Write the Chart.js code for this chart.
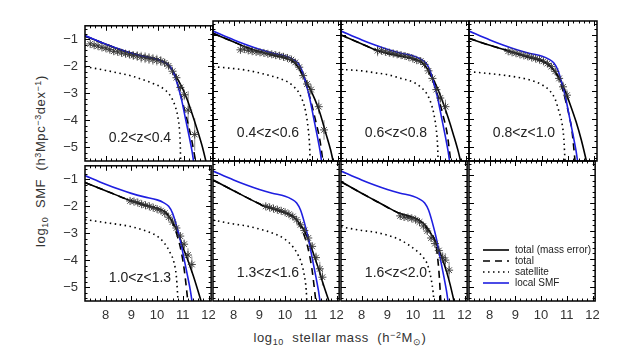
<!DOCTYPE html>
<html>
<head>
<meta charset="utf-8">
<script src="https://cdn.jsdelivr.net/npm/chart.js@4.4.1/dist/chart.umd.min.js"></script>
<style>
  body { margin: 0; width: 637px; height: 360px; background: #fff; position: relative; overflow: hidden;
         font-family: "Liberation Sans", Arial, sans-serif; color: #333; }
  canvas { position: absolute; }
  .title { position: absolute; white-space: nowrap; font-size: 13px; letter-spacing: 0.6px; line-height: 1; }
  .title sub, .title sup { font-size: 9px; vertical-align: 0; position: relative; }
  .title sub { top: 0.35em; }
  .title sup { top: -0.5em; }
  #ytitle { left: 40px; top: 161px; transform: translate(-50%, -50%) rotate(-90deg); }
  #xtitle { left: 340px; top: 337px; transform: translate(-50%, -50%); }
</style>
</head>
<body>
<div class="title" id="ytitle">log<sub>10</sub>&nbsp; SMF &nbsp;(h<sup>3</sup>Mpc<sup>−3</sup>dex<sup>−1</sup>)</div>
<div class="title" id="xtitle">log<sub>10</sub>&nbsp; stellar mass &nbsp;(h<sup>−2</sup>M<sub>⊙</sub>)</div>
<script>
// Rotverschiebungs-Bins (ein Panel pro Bin, letztes Panel = Legende)
const zBins = ['0.2<z<0.4', '0.4<z<0.6', '0.6<z<0.8', '0.8<z<1.0', '1.0<z<1.3', '1.3<z<1.6', '1.6<z<2.0'];
const xTicks = [8, 9, 10, 11, 12];
const yTicks = [-5, -4, -3, -2, -1];
const seriesNames = ['total (mass error)', 'total', 'satellite', 'local SMF'];

// lokale SMF (gleich in allen Panels)
const localSMF = [[7.2,-0.86],[8.0,-1.18],[8.5,-1.36],[9.0,-1.52],[9.5,-1.65],[10.0,-1.76],[10.25,-1.86],
  [10.45,-2.0],[10.6,-2.25],[10.75,-2.7],[10.9,-3.25],[11.05,-3.95],[11.2,-4.65],[11.3,-5.15],[11.37,-5.6]];

// Modell: total (mit Massenfehler)
const totalMassErr = [
  [[7.2,-0.88],[8.0,-1.18],[8.5,-1.37],[9.0,-1.52],[9.5,-1.64],[10.0,-1.75],[10.3,-1.88],[10.5,-2.08],[10.7,-2.4],[10.9,-2.75],[11.1,-3.2],[11.3,-3.75],[11.5,-4.35],[11.7,-5.0],[11.85,-5.6]],
  [[7.2,-0.94],[8.0,-1.25],[8.5,-1.45],[9.0,-1.6],[9.5,-1.72],[10.0,-1.83],[10.3,-1.97],[10.5,-2.2],[10.7,-2.55],[10.9,-2.9],[11.1,-3.3],[11.3,-3.8],[11.5,-4.45],[11.7,-5.1],[11.82,-5.6]],
  [[7.2,-1.0],[8.0,-1.32],[8.6,-1.56],[9.0,-1.66],[9.5,-1.76],[10.0,-1.86],[10.3,-1.98],[10.5,-2.2],[10.7,-2.52],[10.9,-2.92],[11.1,-3.4],[11.3,-3.95],[11.5,-4.55],[11.7,-5.2],[11.8,-5.6]],
  [[7.2,-1.12],[8.0,-1.37],[8.7,-1.56],[9.0,-1.65],[9.5,-1.8],[10.0,-1.93],[10.3,-2.1],[10.5,-2.32],[10.7,-2.62],[10.9,-3.05],[11.1,-3.55],[11.3,-4.1],[11.5,-4.75],[11.72,-5.6]],
  [[7.2,-1.12],[8.0,-1.42],[9.0,-1.8],[9.5,-1.95],[10.0,-2.07],[10.3,-2.2],[10.5,-2.42],[10.7,-2.75],[10.9,-3.2],[11.0,-3.5],[11.2,-4.0],[11.4,-4.55],[11.55,-5.0],[11.74,-5.6]],
  [[7.2,-1.18],[8.0,-1.56],[8.5,-1.8],[9.0,-2.03],[9.2,-2.12],[9.6,-2.23],[10.0,-2.35],[10.3,-2.48],[10.5,-2.65],[10.7,-2.92],[10.9,-3.3],[11.1,-3.8],[11.3,-4.35],[11.5,-4.95],[11.72,-5.55]],
  [[7.2,-1.24],[8.0,-1.65],[8.5,-1.9],[9.0,-2.15],[9.47,-2.37],[10.0,-2.52],[10.24,-2.62],[10.5,-2.82],[10.7,-3.1],[10.9,-3.45],[11.1,-3.9],[11.3,-4.45],[11.45,-4.95],[11.6,-5.55]]
];

// Modell: total (ohne Massenfehler)
const totalSMF = [
  [[7.2,-0.88],[8.0,-1.18],[8.5,-1.37],[9.0,-1.52],[9.5,-1.64],[10.0,-1.75],[10.3,-1.88],[10.5,-2.08],[10.7,-2.5],[10.9,-3.2],[11.1,-3.95],[11.3,-4.8],[11.45,-5.6]],
  [[7.2,-0.94],[8.0,-1.25],[8.5,-1.45],[9.0,-1.6],[9.5,-1.72],[10.0,-1.83],[10.3,-1.97],[10.5,-2.2],[10.7,-2.6],[10.9,-3.2],[11.1,-3.95],[11.3,-4.8],[11.42,-5.6]],
  [[7.2,-1.0],[8.0,-1.32],[8.6,-1.56],[9.0,-1.66],[9.5,-1.76],[10.0,-1.86],[10.3,-1.98],[10.5,-2.2],[10.7,-2.6],[10.9,-3.15],[11.1,-3.85],[11.26,-4.5],[11.4,-5.5]],
  [[7.2,-1.12],[8.0,-1.37],[8.7,-1.56],[9.0,-1.65],[9.5,-1.8],[10.0,-1.93],[10.3,-2.1],[10.5,-2.32],[10.7,-2.7],[10.9,-3.35],[11.05,-3.95],[11.14,-4.4],[11.27,-5.6]],
  [[7.2,-1.12],[8.0,-1.42],[9.0,-1.8],[9.5,-1.95],[10.0,-2.07],[10.3,-2.2],[10.5,-2.42],[10.7,-2.85],[10.9,-3.5],[11.05,-4.3],[11.2,-5.55]],
  [[7.2,-1.18],[8.0,-1.56],[8.5,-1.8],[9.0,-2.03],[9.2,-2.12],[9.6,-2.23],[10.0,-2.35],[10.3,-2.48],[10.5,-2.7],[10.7,-3.05],[10.9,-3.65],[11.05,-4.4],[11.2,-5.55]],
  [[7.2,-1.24],[8.0,-1.65],[8.5,-1.9],[9.0,-2.15],[9.47,-2.37],[10.0,-2.52],[10.24,-2.62],[10.5,-2.88],[10.7,-3.1],[10.88,-3.45],[11.0,-4.4],[11.08,-5.55]]
];

// Modell: Satelliten
const satelliteSMF = [
  [[7.2,-2.01],[8.0,-2.15],[8.5,-2.25],[9.0,-2.36],[9.5,-2.52],[9.8,-2.63],[10.1,-2.76],[10.3,-2.9],[10.5,-3.14],[10.65,-3.47],[10.75,-3.85],[10.82,-4.4],[10.85,-5.0],[10.86,-5.6]],
  [[7.2,-2.13],[8.0,-2.2],[8.5,-2.26],[9.0,-2.36],[9.5,-2.48],[9.8,-2.57],[10.1,-2.7],[10.3,-2.85],[10.5,-3.08],[10.65,-3.4],[10.75,-3.75],[10.85,-4.4],[10.9,-5.0],[10.92,-5.6]],
  [[7.2,-2.23],[8.0,-2.28],[8.5,-2.35],[9.0,-2.42],[9.5,-2.55],[10.0,-2.7],[10.3,-2.9],[10.5,-3.12],[10.65,-3.45],[10.75,-3.8],[10.85,-4.4],[10.9,-5.0],[10.92,-5.6]],
  [[7.2,-2.31],[8.0,-2.38],[9.0,-2.5],[9.5,-2.6],[10.0,-2.78],[10.3,-3.0],[10.5,-3.3],[10.65,-3.75],[10.75,-4.1],[10.83,-4.7],[10.88,-5.6]],
  [[7.2,-2.49],[8.0,-2.6],[8.5,-2.67],[9.0,-2.75],[9.7,-2.96],[10.0,-3.1],[10.3,-3.38],[10.5,-3.7],[10.65,-4.05],[10.75,-4.6],[10.82,-5.6]],
  [[7.2,-2.61],[8.0,-2.75],[8.5,-2.82],[9.0,-2.93],[9.7,-3.14],[10.0,-3.3],[10.3,-3.56],[10.5,-3.85],[10.62,-4.1],[10.75,-4.6],[10.82,-5.1],[10.85,-5.6]],
  [[7.2,-2.85],[8.0,-2.98],[8.5,-3.04],[9.0,-3.15],[9.5,-3.32],[10.1,-3.68],[10.4,-3.95],[10.56,-4.2],[10.7,-4.7],[10.78,-5.2],[10.82,-5.6]]
];

// Beobachtungen: Masse, log Phi, Fehler
const obsMass = [
  [7.40,7.55,7.70,7.85,8.00,8.15,8.30,8.45,8.60,8.75,8.90,9.05,9.20,9.35,9.50,9.65,9.80,9.95,10.10,10.25,10.40,10.55,10.70,10.85,11.00,11.15,11.40],
  [8.25,8.40,8.55,8.70,8.85,9.00,9.15,9.30,9.45,9.60,9.75,9.90,10.05,10.20,10.35,10.50,10.65,10.80,10.95,11.25,11.45],
  [8.60,8.75,8.90,9.05,9.20,9.35,9.50,9.65,9.80,9.95,10.10,10.25,10.40,10.55,10.70,10.85,11.00,11.20],
  [8.70,8.85,9.00,9.15,9.30,9.45,9.60,9.75,9.90,10.05,10.20,10.35,10.50,10.65,10.80,10.95],
  [8.95,9.10,9.25,9.40,9.55,9.70,9.85,10.00,10.15,10.30,10.45,10.60,10.75,10.90,11.05,11.20,11.35],
  [9.25,9.40,9.55,9.70,9.85,10.00,10.15,10.30,10.45,10.60,10.75,10.90,11.05,11.20,11.35,11.45],
  [9.50,9.65,9.80,9.95,10.10,10.25,10.40,10.55,10.70,10.85,11.00,11.15,11.25,11.40]
];
const obsPhi = [
  [-1.17,-1.22,-1.25,-1.30,-1.33,-1.38,-1.44,-1.46,-1.50,-1.53,-1.56,-1.60,-1.62,-1.66,-1.68,-1.71,-1.74,-1.77,-1.80,-1.87,-1.98,-2.18,-2.42,-2.78,-3.05,-3.62,-4.52],
  [-1.53,-1.50,-1.55,-1.58,-1.60,-1.62,-1.64,-1.67,-1.69,-1.72,-1.74,-1.78,-1.82,-1.88,-1.98,-2.15,-2.45,-2.75,-2.95,-3.56,-4.39],
  [-1.56,-1.56,-1.60,-1.63,-1.66,-1.69,-1.72,-1.75,-1.79,-1.84,-1.90,-1.93,-2.05,-2.28,-2.55,-2.95,-3.25,-3.56],
  [-1.58,-1.62,-1.65,-1.69,-1.73,-1.76,-1.80,-1.84,-1.88,-1.94,-2.02,-2.13,-2.30,-2.55,-2.85,-3.15],
  [-1.80,-1.82,-1.86,-1.92,-1.96,-2.00,-2.05,-2.10,-2.16,-2.25,-2.40,-2.58,-2.80,-3.10,-3.40,-3.80,-4.15],
  [-2.12,-2.16,-2.20,-2.24,-2.28,-2.33,-2.40,-2.48,-2.60,-2.78,-2.98,-3.25,-3.55,-3.95,-4.35,-4.65],
  [-2.46,-2.50,-2.52,-2.55,-2.60,-2.68,-2.82,-3.00,-3.25,-3.45,-3.70,-3.95,-4.04,-4.40]
];
const obsErr = [
  [0.06,0.06,0.06,0.06,0.07,0.07,0.08,0.08,0.10,0.10,0.12,0.15,0.18,0.20,0.20,0.20,0.20,0.20,0.18,0.15,0.12,0.10,0.12,0.15,0.20,0.70,0.60],
  [0.06,0.05,0.05,0.05,0.05,0.05,0.05,0.06,0.06,0.06,0.07,0.07,0.08,0.08,0.10,0.12,0.15,0.15,0.20,0.25,0.35],
  [0.20,0.06,0.05,0.05,0.05,0.05,0.05,0.06,0.06,0.07,0.07,0.08,0.10,0.12,0.15,0.18,0.20,0.25],
  [0.05,0.05,0.05,0.05,0.05,0.05,0.06,0.06,0.07,0.08,0.08,0.10,0.12,0.15,0.18,0.20],
  [0.05,0.05,0.05,0.05,0.05,0.06,0.06,0.06,0.07,0.08,0.08,0.10,0.12,0.15,0.18,0.25,0.30],
  [0.06,0.05,0.05,0.05,0.05,0.06,0.06,0.07,0.08,0.09,0.10,0.12,0.15,0.18,0.25,0.30],
  [0.08,0.06,0.06,0.06,0.07,0.07,0.08,0.10,0.12,0.15,0.18,0.20,0.25,0.30]
];

const toXY = pts => pts.map(p => ({ x: p[0], y: p[1] }));

// Linienstile: total (mass error), total, satellite, local SMF
const lineStyles = [
  { color: '#000', width: 1.6, dash: [] },
  { color: '#000', width: 1.6, dash: [7, 5] },
  { color: '#000', width: 1.6, dash: [1.5, 3.5] },
  { color: '#1f1fe0', width: 1.6, dash: [] }
];

// Rahmen, Ticks nach innen, Fehlerbalken, z-Label, Legende
const panelPlugin = {
  id: 'panel',
  beforeDatasetsDraw(chart) {
    const { ctx, chartArea: a, scales: { x, y } } = chart;
    ctx.save();
    ctx.beginPath();
    ctx.rect(a.left, a.top, a.width, a.height);
    ctx.clip();
    ctx.strokeStyle = '#8c8c8c';
    ctx.lineWidth = 1;
    chart.data.datasets.forEach(ds => {
      if (!ds.err) return;
      ds.data.forEach((p, k) => {
        const px = x.getPixelForValue(p.x);
        ctx.beginPath();
        ctx.moveTo(px, y.getPixelForValue(p.y + ds.err[k]));
        ctx.lineTo(px, y.getPixelForValue(p.y - ds.err[k]));
        ctx.stroke();
      });
    });
    ctx.restore();
  },
  afterDraw(chart, args, opts) {
    const { ctx, chartArea: a, scales: { x, y } } = chart;
    ctx.save();
    ctx.strokeStyle = '#000';
    ctx.lineWidth = 1;
    ctx.beginPath();
    for (let i = 37; i <= 60; i++) {
      const px = Math.round(x.getPixelForValue(i / 5)) + 0.5;
      const len = i % 5 === 0 ? 5 : 2.5;
      ctx.moveTo(px, a.bottom); ctx.lineTo(px, a.bottom - len);
      ctx.moveTo(px, a.top); ctx.lineTo(px, a.top + len);
    }
    for (let i = -27; i <= -3; i++) {
      const py = Math.round(y.getPixelForValue(i / 5)) + 0.5;
      const len = i % 5 === 0 ? 5 : 2.5;
      ctx.moveTo(a.left, py); ctx.lineTo(a.left + len, py);
      ctx.moveTo(a.right, py); ctx.lineTo(a.right - len, py);
    }
    ctx.stroke();
    ctx.lineWidth = 1.5;
    ctx.strokeRect(a.left, a.top, a.width, a.height);

    if (opts.label) {
      ctx.fillStyle = '#222';
      ctx.font = '14px "Liberation Sans", Arial, sans-serif';
      ctx.textAlign = 'center';
      ctx.textBaseline = 'middle';
      ctx.fillText(opts.label, a.left + 55, a.top + 112);
    }
    if (opts.legend) {
      ctx.font = '10px "Liberation Sans", Arial, sans-serif';
      ctx.textAlign = 'left';
      ctx.textBaseline = 'middle';
      seriesNames.forEach((name, k) => {
        const st = lineStyles[k];
        const ly = a.top + 89 + k * 11;
        ctx.strokeStyle = st.color;
        ctx.lineWidth = st.width;
        ctx.setLineDash(st.dash);
        ctx.beginPath();
        ctx.moveTo(a.left + 14, ly); ctx.lineTo(a.left + 40, ly);
        ctx.stroke();
        ctx.setLineDash([]);
        ctx.fillStyle = '#222';
        ctx.fillText(name, a.left + 46, ly);
      });
    }
    ctx.restore();
  }
};

const W = 128, H = 140, LEFT = 85, TOP = 21;

function makePanel(i) {
  const col = i % 4, row = Math.floor(i / 4);
  const cv = document.createElement('canvas');
  cv.width = 50 + W + 10;
  cv.height = 10 + H + 30;
  cv.style.left = (LEFT + col * W - 50) + 'px';
  cv.style.top = (TOP + row * H - 10) + 'px';
  document.body.appendChild(cv);

  const datasets = [];
  if (i < 7) {
    datasets.push({
      data: obsMass[i].map((m, k) => ({ x: m, y: obsPhi[i][k] })),
      err: obsErr[i],
      showLine: false, pointStyle: 'star', pointRadius: 4,
      borderColor: '#333', borderWidth: 0.9, order: 0, clip: 0
    });
    const curves = [totalMassErr[i], totalSMF[i], satelliteSMF[i], localSMF];
    const orders = [2, 3, 4, 1];
    curves.forEach((c, k) => {
      const st = lineStyles[k];
      datasets.push({
        data: toXY(c), borderColor: st.color, borderWidth: st.width, borderDash: st.dash,
        pointRadius: 0, cubicInterpolationMode: 'monotone', fill: false, order: orders[k], clip: 0
      });
    });
  }

  const tickFont = { family: '"Liberation Sans", Arial, sans-serif', size: 13 };
  new Chart(cv, {
    type: 'line',
    data: { datasets },
    options: {
      responsive: false,
      animation: false,
      events: [],
      layout: { padding: { top: 10, right: 10, left: 0, bottom: 0 } },
      plugins: {
        legend: { display: false },
        tooltip: { enabled: false },
        panel: { label: zBins[i], legend: i === 7 }
      },
      scales: {
        x: {
          type: 'linear', min: 7.2, max: 12.1,
          afterBuildTicks: s => { s.ticks = xTicks.map(v => ({ value: v })); },
          afterFit: s => { s.height = 30; },
          grid: { display: false, drawTicks: false },
          border: { display: false },
          ticks: { display: row === 1, color: '#333', font: tickFont, padding: 7, maxRotation: 0 }
        },
        y: {
          type: 'linear', min: -5.5, max: -0.5,
          afterBuildTicks: s => { s.ticks = yTicks.map(v => ({ value: v })); },
          afterFit: s => { s.width = 50; },
          grid: { display: false, drawTicks: false },
          border: { display: false },
          ticks: { display: col === 0, color: '#333', font: tickFont, padding: 7,
                   callback: v => (v < 0 ? '−' : '') + Math.abs(v) }
        }
      }
    },
    plugins: [panelPlugin]
  });
}

for (let i = 0; i < 8; i++) makePanel(i);
</script>
</body>
</html>
